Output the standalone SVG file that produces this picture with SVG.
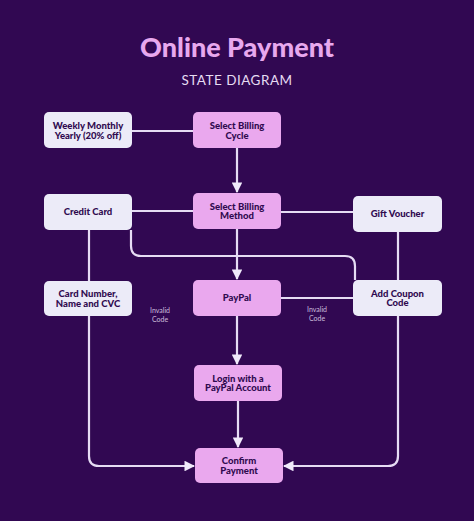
<svg xmlns="http://www.w3.org/2000/svg" width="474" height="521" viewBox="0 0 474 521">
<defs>
<style>
.bg{fill:#310852}
.title{font-family:Lato,"Noto Sans",sans-serif;font-weight:900;font-size:27px;fill:#e8a8ee}
.sub{font-family:Lato,"Noto Sans",sans-serif;font-size:13.5px;fill:#e6dcf2;letter-spacing:0.5px}
.pink{fill:#eaa8ee}
.light{fill:#ecebf8}
.nt{font-family:Lato,"Noto Sans",sans-serif;font-weight:900;font-size:9.5px;fill:#300a50;text-anchor:middle}
.lbl{font-family:Lato,"Noto Sans",sans-serif;font-size:7px;fill:#cbbcdc;text-anchor:middle}
.ln{fill:none;stroke:#e6dcf4;stroke-width:2.2}
</style>
<marker id="arr" viewBox="0 0 10 10" refX="9" refY="5" markerWidth="4.8" markerHeight="4.8" orient="auto" markerUnits="strokeWidth">
<path d="M0,0 L10,5 L0,10 z" fill="#f0eafa"/>
</marker>
</defs>
<rect class="bg" x="0" y="0" width="474" height="521"/>
<text class="title" x="237" y="57" text-anchor="middle">Online Payment</text>
<text class="sub" x="237" y="85" text-anchor="middle">STATE DIAGRAM</text>

<g id="connectors">
<path class="ln" d="M132,131 H193"/>
<path class="ln" d="M237,148 V192" marker-end="url(#arr)"/>
<path class="ln" d="M132,211 H193"/>
<path class="ln" d="M281,212 H353"/>
<path class="ln" d="M237,229 V279" marker-end="url(#arr)"/>
<path class="ln" d="M89,230 V281"/>
<path class="ln" d="M131,230 V246 Q131,256 141,256 H345 Q355,256 355,266 V280"/>
<path class="ln" d="M398,232 V280"/>
<path class="ln" d="M281,298 H353"/>
<path class="ln" d="M237,316 V364" marker-end="url(#arr)"/>
<path class="ln" d="M238,401 V447" marker-end="url(#arr)"/>
<path class="ln" d="M89,316 V456 Q89,466 99,466 H194" marker-end="url(#arr)"/>
<path class="ln" d="M398,316 V456 Q398,466 388,466 H284" marker-end="url(#arr)"/>
</g>

<g id="weekly">
<rect class="light" x="44" y="112" width="88" height="36" rx="5"/>
<text class="nt" x="88" y="129">Weekly Monthly</text>
<text class="nt" x="88" y="138.5">Yearly (20% off)</text>
</g>
<g id="billing-cycle">
<rect class="pink" x="193" y="112" width="88" height="36" rx="5"/>
<text class="nt" x="237" y="129">Select Billing</text>
<text class="nt" x="237" y="138.5">Cycle</text>
</g>
<g id="credit-card">
<rect class="light" x="44" y="194" width="88" height="36" rx="5"/>
<text class="nt" x="88" y="215">Credit Card</text>
</g>
<g id="billing-method">
<rect class="pink" x="193" y="193" width="88" height="36" rx="5"/>
<text class="nt" x="237" y="209.5">Select Billing</text>
<text class="nt" x="237" y="219">Method</text>
</g>
<g id="gift-voucher">
<rect class="light" x="353" y="196" width="89" height="36" rx="5"/>
<text class="nt" x="397.5" y="217">Gift Voucher</text>
</g>
<g id="card-number">
<rect class="light" x="44" y="281" width="88" height="35" rx="5"/>
<text class="nt" x="88" y="297">Card Number,</text>
<text class="nt" x="88" y="306.5">Name and  CVC</text>
</g>
<g id="paypal">
<rect class="pink" x="193" y="280" width="88" height="36" rx="5"/>
<text class="nt" x="237" y="301">PayPal</text>
</g>
<g id="coupon">
<rect class="light" x="353" y="280" width="89" height="36" rx="5"/>
<text class="nt" x="397.5" y="296.5">Add Coupon</text>
<text class="nt" x="397.5" y="306">Code</text>
</g>
<g id="login">
<rect class="pink" x="194" y="365" width="88" height="36" rx="5"/>
<text class="nt" x="238" y="381.5">Login with a</text>
<text class="nt" x="238" y="391">PayPal Account</text>
</g>
<g id="confirm">
<rect class="pink" x="195" y="448" width="88" height="35" rx="5"/>
<text class="nt" x="239" y="464">Confirm</text>
<text class="nt" x="239" y="473.5">Payment</text>
</g>
<g id="labels">
<text class="lbl" x="160" y="313">Invalid</text>
<text class="lbl" x="160" y="322">Code</text>
<text class="lbl" x="317" y="312">Invalid</text>
<text class="lbl" x="317" y="321">Code</text>
</g>
</svg>
